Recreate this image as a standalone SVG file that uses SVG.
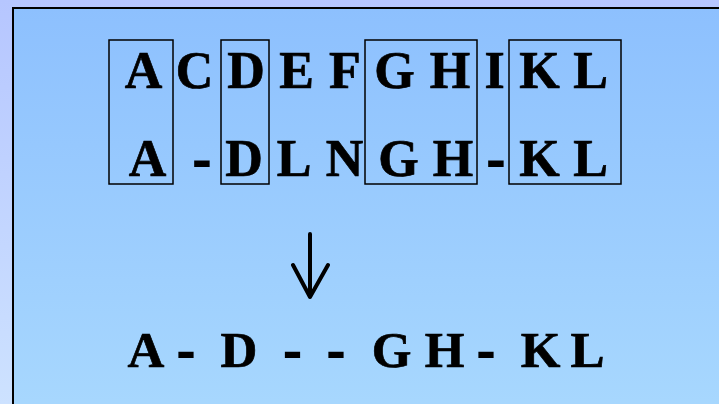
<svg xmlns="http://www.w3.org/2000/svg" width="719" height="404" viewBox="0 0 719 404">
<defs>
<linearGradient id="bg" x1="0" y1="0" x2="0" y2="1">
<stop offset="0" stop-color="#b6c6ff"/>
<stop offset="1" stop-color="#cde2ff"/>
</linearGradient>
<linearGradient id="panel" x1="0" y1="0" x2="0" y2="1">
<stop offset="0" stop-color="#8dc0fe"/>
<stop offset="1" stop-color="#a8d8fe"/>
</linearGradient>
</defs>
<style>
text{font-family:"Liberation Serif","Times New Roman",serif;font-weight:bold;font-size:52px;fill:#000;stroke:#000;stroke-width:0.7;text-anchor:middle}
.r3{font-size:51px}
.hy{stroke-width:2}
.box{fill:none;stroke:#000;stroke-width:1.5}
.arrow{fill:none;stroke:#000;stroke-width:4;stroke-linecap:round;stroke-linejoin:round}
</style>
<rect x="0" y="0" width="719" height="404" fill="url(#bg)"/>
<rect x="13" y="8" width="720" height="410" fill="url(#panel)" stroke="#000" stroke-width="2"/>
<g id="box-A"><rect class="box" x="109" y="40" width="64" height="144"/></g>
<g id="box-D"><rect class="box" x="221" y="40" width="48" height="144"/></g>
<g id="box-GH"><rect class="box" x="365" y="40" width="112" height="144"/></g>
<g id="box-KL"><rect class="box" x="509" y="40" width="112" height="144"/></g>
<g id="row1">
<text x="143.5" y="88">A</text>
<text x="194.5" y="88">C</text>
<text x="246" y="88">D</text>
<text x="296.5" y="88">E</text>
<text x="345" y="88">F</text>
<text x="394.5" y="88">G</text>
<text x="450" y="88">H</text>
<text x="494.5" y="88">I</text>
<text x="539.5" y="88">K</text>
<text x="590.5" y="88">L</text>
</g>
<g id="row2">
<text x="147.5" y="176">A</text>
<text class="hy" x="202" y="176">-</text>
<text x="244" y="176">D</text>
<text x="294" y="176">L</text>
<text x="344.5" y="176">N</text>
<text x="398.5" y="176">G</text>
<text x="453" y="176">H</text>
<text class="hy" x="496" y="176">-</text>
<text x="539.5" y="176">K</text>
<text x="590.5" y="176">L</text>
</g>
<g id="connectors">
<path class="arrow" d="M310 234 V297 M293 265 L310 297 L328 265"/>
</g>
<g id="row3">
<text class="r3" x="146" y="367">A</text>
<text class="r3 hy" x="186" y="367">-</text>
<text class="r3" x="239" y="367">D</text>
<text class="r3 hy" x="292.5" y="367">-</text>
<text class="r3 hy" x="336" y="367">-</text>
<text class="r3" x="391.5" y="367">G</text>
<text class="r3" x="444.5" y="367">H</text>
<text class="r3 hy" x="486" y="367">-</text>
<text class="r3" x="540.5" y="367">K</text>
<text class="r3" x="587.5" y="367">L</text>
</g>
</svg>
